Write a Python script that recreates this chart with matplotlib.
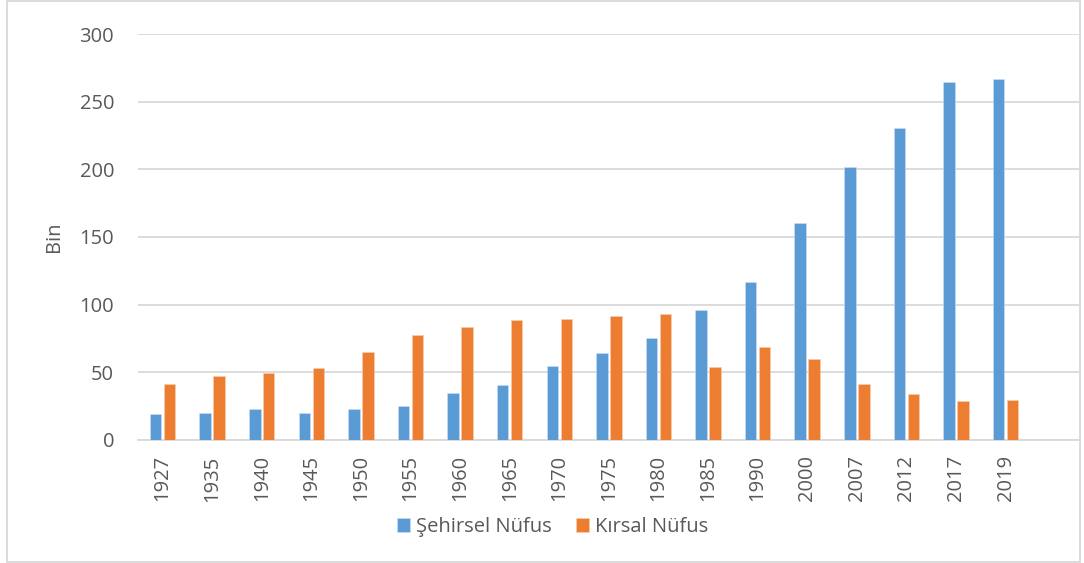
import numpy as np
import matplotlib
matplotlib.use("Agg")
import matplotlib.pyplot as plt
from matplotlib.patches import Rectangle

years = ["1927", "1935", "1940", "1945", "1950", "1955", "1960", "1965", "1970",
         "1975", "1980", "1985", "1990", "2000", "2007", "2012", "2017", "2019"]
sehirsel = [19.5, 20.2, 22.9, 20.2, 22.9, 25.4, 34.4, 41.0, 54.5,
            64.4, 75.3, 96.3, 116.6, 160.7, 201.7, 230.5, 264.5, 266.5]
kirsal = [41.4, 47.0, 49.3, 53.0, 64.8, 77.4, 83.3, 88.7, 89.7,
          91.4, 92.9, 53.9, 69.0, 60.2, 41.2, 34.0, 28.8, 29.7]
y_ticks = [0, 50, 100, 150, 200, 250, 300]

plt.rcParams['font.family'] = ['Open Sans', 'DejaVu Sans']
grey = "#595959"
grid = "#d9d9d9"

fig = plt.figure(figsize=(10.84, 5.63), dpi=100)
ax = fig.add_axes([0.1271, 0.2185, 0.8692, 0.7211])

x = np.arange(len(years))
w = 0.232
off = 0.141
ax.bar(x - off, sehirsel, w, color="#5B9BD5", edgecolor="#cfe0f2", linewidth=0.4,
       label="Şehirsel Nüfus", zorder=3)
ax.bar(x + off, kirsal, w, color="#ED7D31", edgecolor="#f8cfb3", linewidth=0.4,
       label="Kırsal Nüfus", zorder=3)

ax.set_xlim(-0.5, len(years) + 0.5)
ax.set_ylim(0, 300)
ax.set_yticks(y_ticks)
ax.set_xticks(x)
ax.set_xticklabels(years, rotation=90)
ax.tick_params(axis="both", length=0, colors=grey, labelsize=14.5)
ax.tick_params(axis="y", pad=17)
ax.tick_params(axis="x", pad=11)
ax.yaxis.grid(True, color=grid, linewidth=1.3, zorder=0)
for s in ["top", "right", "left"]:
    ax.spines[s].set_visible(False)
ax.spines["bottom"].set_color(grid)
ax.spines["bottom"].set_linewidth(1.3)
ax.set_ylabel("Bin", color=grey, fontsize=14.5, labelpad=11)

fig.legend(loc="center", bbox_to_anchor=(553 / 1084, 1 - 527 / 563), ncol=2,
           frameon=False, fontsize=14.5, labelcolor=grey, handlelength=0.65,
           handleheight=0.65, handletextpad=0.3, columnspacing=1.2)

fig.patches.append(Rectangle((7 / 1084, 1 / 563), (1080 - 7) / 1084, 1 - 2 / 563,
                             transform=fig.transFigure, fill=False,
                             edgecolor=grid, linewidth=1.3))

fig.savefig("out.png", dpi=100)
